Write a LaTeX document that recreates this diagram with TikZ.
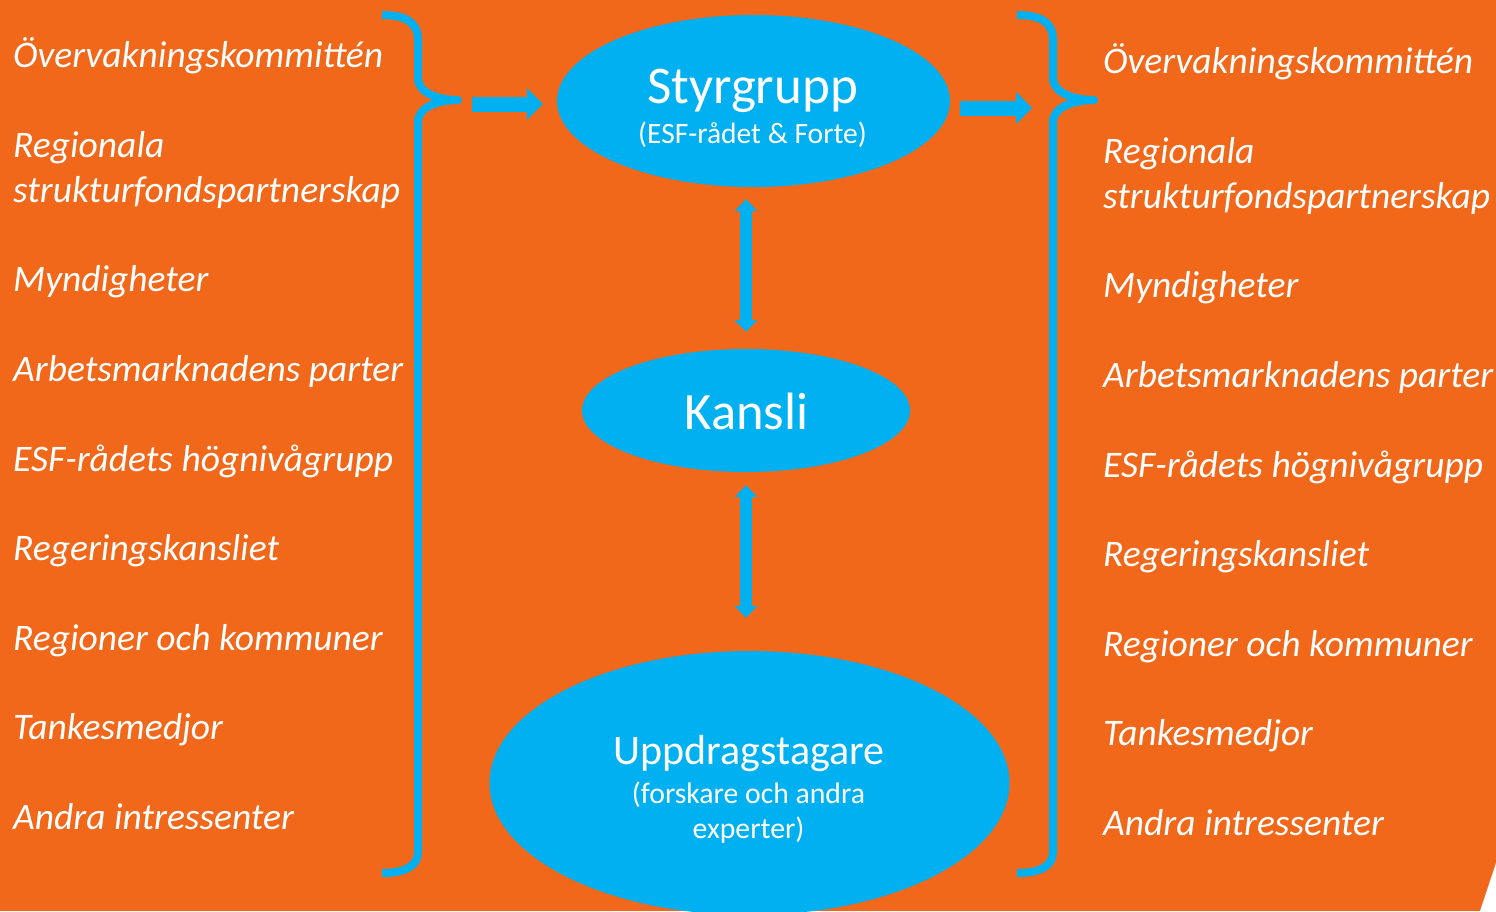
\documentclass[tikz,border=0pt]{standalone}
\usepackage{fontspec}
\setmainfont{Carlito}
\usetikzlibrary{shapes.geometric,arrows.meta,calc}
\definecolor{bgorange}{RGB}{242,104,26}
\definecolor{esfblue}{RGB}{0,176,240}
\begin{document}
\begin{tikzpicture}[x=1pt,y=-1pt,
  oval/.style={ellipse, fill=esfblue, draw=none, inner sep=0pt},
  item/.style={anchor=base west, text=white, font=\fontsize{37.5}{45}\selectfont\itshape, inner sep=0pt, align=left},
  title/.style={anchor=base, text=white, inner sep=0pt},
  brace/.style={draw=esfblue, line width=8pt, line join=round, line cap=butt},
  blockarrow/.style={draw=esfblue, line width=15pt, -{Triangle[width=32pt,length=16pt,line width=0pt]}},
  dblarrow/.style={draw=esfblue, line width=12pt, {Triangle[width=23pt,length=12pt,line width=0pt]}-{Triangle[width=23pt,length=12pt,line width=0pt]}}
]
\useasboundingbox (0,0) rectangle (1496,911);
\clip (0,0) rectangle (1496,911);
\fill[bgorange] (0,0) rectangle (1496,911);
\fill[white] (1496,863) -- (1496,911) -- (1480,911) -- cycle;

% ellipses
\node[oval, minimum width=393pt, minimum height=172pt] (styr) at (753.5,101) {};
\node[oval, minimum width=328pt, minimum height=123pt] (kansli) at (746,410.5) {};
\node[oval, minimum width=520pt, minimum height=264pt] (upp) at (749.5,783) {};

% ellipse texts
\node[title, font=\fontsize{53}{60}\selectfont] (styrT) at (752.5,103) {Styrgrupp};
\node[title, font=\fontsize{29.5}{34}\selectfont] (styrS) at (752.5,143) {(ESF-rådet \& Forte)};
\node[title, font=\fontsize{52.5}{60}\selectfont] (kansliT) at (746.5,429) {Kansli};
\node[title, font=\fontsize{42}{48}\selectfont] (uppT) at (749,764) {Uppdragstagare};
\node[title, font=\fontsize{29.7}{34}\selectfont] (uppS1) at (748.5,803) {(forskare och andra};
\node[title, font=\fontsize{29.7}{34}\selectfont] (uppS2) at (748.5,838) {experter)};

% braces
\coordinate (ltip) at (458,100);
\coordinate (rtip) at (1094,100);
\draw[brace] (382,15) .. controls (405,15) and (418,22) .. (418,40) -- (418,78)
  .. controls (418,93) and (438,100) .. (ltip)
  .. controls (438,100) and (418,107) .. (418,122) -- (418,852)
  .. controls (418,866) and (405,873) .. (382,873);
\draw[brace] (1017,15) .. controls (1040,15) and (1053,22) .. (1053,40) -- (1053,78)
  .. controls (1053,93) and (1074,100) .. (rtip)
  .. controls (1074,100) and (1053,107) .. (1053,122) -- (1053,852)
  .. controls (1053,866) and (1040,873) .. (1017,873);

% block arrows
\coordinate (larr) at (472,104);
\coordinate (rarr) at (1032,108);
\draw[blockarrow, shorten >=14pt] (larr) -- (larr -| styr.west);
\draw[blockarrow, shorten <=10pt] (rarr -| styr.east) -- (rarr);

% double arrows
\draw[dblarrow, shorten <=12pt, shorten >=17pt] (kansli.north |- styr.south) -- (kansli.north);
\draw[dblarrow, shorten <=13pt, shorten >=33pt] (kansli.south) -- (kansli.south |- upp.north);

% left list
\node[item] (l1) at (13,67) {Övervakningskommittén};
\node[item] (l2) at (13,202) {Regionala\\strukturfondspartnerskap};
\node[item] (l3) at (13,291) {Myndigheter};
\node[item] (l4) at (13,381) {Arbetsmarknadens parter};
\node[item] (l5) at (13,471) {ESF-rådets högnivågrupp};
\node[item] (l6) at (13,560) {Regeringskansliet};
\node[item] (l7) at (13,650) {Regioner och kommuner};
\node[item] (l8) at (13,739) {Tankesmedjor};
\node[item] (l9) at (13,829) {Andra intressenter};

% right list
\node[item] (r1) at (1103,73) {Övervakningskommittén};
\node[item] (r2) at (1103,208) {Regionala\\strukturfondspartnerskap};
\node[item] (r3) at (1103,297) {Myndigheter};
\node[item] (r4) at (1103,387) {Arbetsmarknadens parter};
\node[item] (r5) at (1103,477) {ESF-rådets högnivågrupp};
\node[item] (r6) at (1103,566) {Regeringskansliet};
\node[item] (r7) at (1103,656) {Regioner och kommuner};
\node[item] (r8) at (1103,745) {Tankesmedjor};
\node[item] (r9) at (1103,835) {Andra intressenter};
\end{tikzpicture}
\end{document}
